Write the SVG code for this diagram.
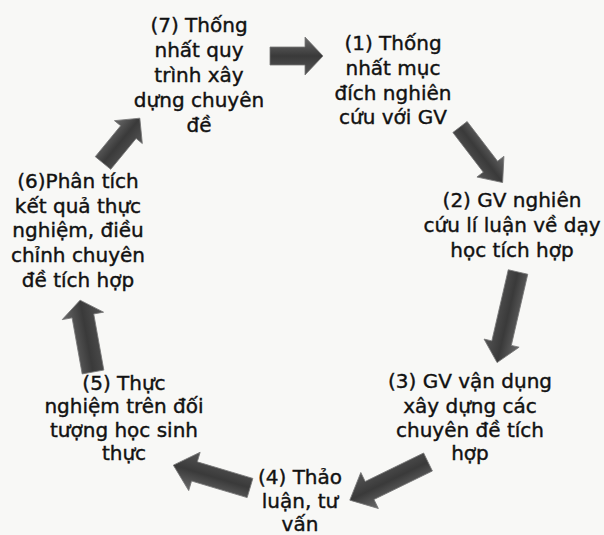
<svg xmlns="http://www.w3.org/2000/svg" width="604" height="535" viewBox="0 0 604 535">
<defs>
<linearGradient id="g" x1="0" y1="0" x2="0" y2="1">
<stop offset="0" stop-color="#6a6a6a"/>
<stop offset="0.5" stop-color="#3a3a3a"/>
<stop offset="1" stop-color="#555"/>
</linearGradient>
</defs>
<style>
text{font-family:"DejaVu Sans","Liberation Sans",sans-serif;font-size:20px;fill:#111;stroke:#111;stroke-width:0.4;text-anchor:middle}
.ar{fill:url(#g);stroke:#777;stroke-width:0.8}
</style>
<rect width="604" height="535" fill="#f8f8f6"/>
<g id="connectors">
<path class="ar" transform="translate(270,56)" d="M0,-9 L35,-9 L35,-19 L53,0 L35,19 L35,9 L0,9 Z"/>
<path class="ar" transform="translate(460,127) rotate(52.5)" d="M0,-9 L50,-9 L50,-17 L70,0 L50,17 L50,9 L0,9 Z"/>
<path class="ar" transform="translate(518,272) rotate(103)" d="M0,-10 L73,-10 L73,-18 L93,0 L73,18 L73,10 L0,10 Z"/>
<path class="ar" transform="translate(428,462) rotate(154)" d="M0,-10 L65,-10 L65,-20 L87,0 L65,20 L65,10 L0,10 Z"/>
<path class="ar" transform="translate(250,488) rotate(196.6)" d="M0,-10 L58,-10 L58,-20 L80,0 L58,20 L58,10 L0,10 Z"/>
<path class="ar" transform="translate(93,372) rotate(-100.2)" d="M0,-11 L57,-11 L57,-21 L73,0 L57,21 L57,11 L0,11 Z"/>
<path class="ar" transform="translate(103,163) rotate(-50.6)" d="M0,-10 L40,-10 L40,-18 L58,0 L40,18 L40,10 L0,10 Z"/>
</g>
<g id="n7">
<text x="199" y="32">(7) Thống</text>
<text x="199" y="57">nhất quy</text>
<text x="199" y="82">trình xây</text>
<text x="199" y="107">dựng chuyên</text>
<text x="199" y="132">đề</text>
</g>
<g id="n1">
<text x="393" y="50">(1) Thống</text>
<text x="393" y="75">nhất mục</text>
<text x="393" y="100">đích nghiên</text>
<text x="393" y="124">cứu với GV</text>
</g>
<g id="n2">
<text x="512" y="207">(2) GV nghiên</text>
<text x="512" y="232">cứu lí luận về dạy</text>
<text x="512" y="257">học tích hợp</text>
</g>
<g id="n3">
<text x="470" y="388">(3) GV vận dụng</text>
<text x="470" y="413">xây dựng các</text>
<text x="470" y="437">chuyên đề tích</text>
<text x="470" y="460">hợp</text>
</g>
<g id="n4">
<text x="300" y="484">(4) Thảo</text>
<text x="300" y="508">luận, tư</text>
<text x="300" y="531">vấn</text>
</g>
<g id="n5">
<text x="124" y="390">(5) Thực</text>
<text x="124" y="413">nghiệm trên đối</text>
<text x="124" y="437">tượng học sinh</text>
<text x="124" y="460">thực</text>
</g>
<g id="n6">
<text x="78" y="188">(6)Phân tích</text>
<text x="78" y="213">kết quả thực</text>
<text x="78" y="237">nghiệm, điều</text>
<text x="78" y="262">chỉnh chuyên</text>
<text x="78" y="287">đề tích hợp</text>
</g>
</svg>
